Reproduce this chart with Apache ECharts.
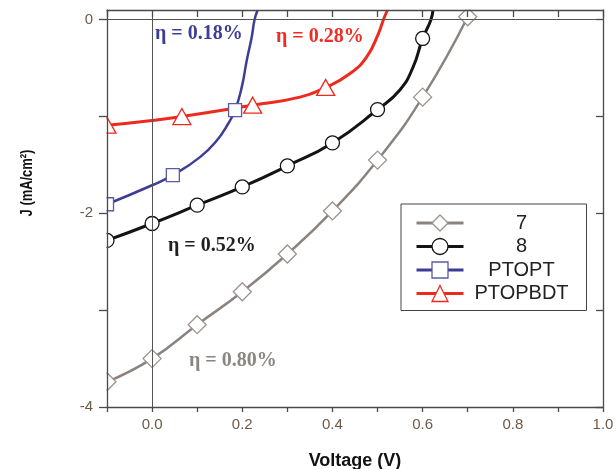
<!DOCTYPE html>
<html>
<head>
<meta charset="utf-8">
<script src="https://cdn.jsdelivr.net/npm/echarts@6/dist/echarts.min.js"></script>
<style>
  html, body { margin: 0; padding: 0; background: #fff; }
  #chart { width: 616px; height: 469px; }
</style>
</head>
<body>
<div id="chart"></div>
<script>
// J–V curves of the four devices (voltage in V, current density in mA/cm²).
// markN lists the indices of points drawn with a marker.
const volt7 = [-0.1, 0.0, 0.1, 0.2, 0.3, 0.4, 0.5, 0.6, 0.7];
const curr7 = [-3.74, -3.50, -3.15, -2.81, -2.42, -1.975, -1.45, -0.80, 0.03];
const mark7 = [0, 1, 2, 3, 4, 5, 6, 7, 8];

const volt8 = [-0.1, 0.0, 0.1, 0.2, 0.3, 0.4, 0.5, 0.549, 0.579, 0.6, 0.618, 0.623];
const curr8 = [-2.28, -2.105, -1.916, -1.727, -1.51, -1.273, -0.928, -0.728, -0.488, -0.194, -0.005, 0.1];
const mark8 = [0, 1, 2, 3, 4, 5, 6, 9];

const voltPT = [-0.1, 0.0, 0.046, 0.107, 0.144, 0.169, 0.184, 0.199, 0.210, 0.221, 0.227, 0.234];
const currPT = [-1.906, -1.71, -1.606, -1.417, -1.245, -1.072, -0.935, -0.694, -0.418, -0.178, -0.005, 0.098];
const markPT = [0, 2, 6];

const voltPB = [-0.1, 0.0, 0.066, 0.223, 0.328, 0.385, 0.439, 0.476, 0.502, 0.513, 0.522];
const currPB = [-1.09, -1.04, -1.0, -0.883, -0.80, -0.70, -0.556, -0.384, -0.143, 0.0, 0.1];
const markPB = [0, 2, 3, 5];

const seriesNames = ['7', '8', 'PTOPT', 'PTOPBDT'];
const efficiencies = ['η = 0.80%', 'η = 0.52%', 'η = 0.18%', 'η = 0.28%'];

// Axis ticks and labels
const xTicks = [-0.1, 0.0, 0.1, 0.2, 0.3, 0.4, 0.5, 0.6, 0.7, 0.8, 0.9, 1.0];
const xLabels = [0.0, 0.2, 0.4, 0.6, 0.8, 1.0];
const yTicks = [-4, -3, -2, -1, 0];
const yLabels = [-4, -2, 0];

const G = { left: 107, top: 10, width: 496, height: 397 };
const axisColor = '#4a4a4a';
const labelColor = '#6b5b4b';

const styles = {
  '7':       { line: '#8a837f', width: 2.5, symbol: 'diamond',  size: 18,       border: '#9a928e' },
  '8':       { line: '#141414', width: 3,   symbol: 'circle',   size: 14,       border: '#141414' },
  'PTOPT':   { line: '#3d3d96', width: 2.5, symbol: 'rect',     size: 13,       border: '#5a5aaa' },
  'PTOPBDT': { line: '#ee2a1e', width: 3,   symbol: 'triangle', size: [18, 16], border: '#ee2a1e' }
};

function points(v, j, marks) {
  return v.map((x, i) => marks.includes(i)
    ? { value: [x, j[i]] }
    : { value: [x, j[i]], symbol: 'none' });
}

function curve(name, v, j, marks) {
  const s = styles[name];
  return {
    name: name,
    type: 'line',
    data: points(v, j, marks),
    smooth: 0.5,
    symbol: s.symbol,
    symbolSize: s.size,
    showAllSymbol: true,
    clip: true,
    lineStyle: { color: s.line, width: s.width },
    itemStyle: { color: '#fff', borderColor: s.border, borderWidth: 1.3 },
    emphasis: { disabled: true },
    z: 3
  };
}

const chart = echarts.init(document.getElementById('chart'), null, { renderer: 'canvas' });

const option = {
  animation: false,
  backgroundColor: '#fff',
  grid: Object.assign({ outerBoundsMode: 'none', containLabel: false }, G),
  xAxis: [{
    type: 'value', position: 'bottom', min: -0.1, max: 1.0, z: 10,
    name: 'Voltage (V)', nameLocation: 'middle', nameGap: 45,
    nameTextStyle: { fontFamily: 'Liberation Sans', fontWeight: 'bold', fontSize: 18, color: '#111' },
    axisLine: { show: true, onZero: false, lineStyle: { color: axisColor, width: 1.3 } },
    axisTick: { show: true, inside: false, length: 5, customValues: xTicks, lineStyle: { color: axisColor, width: 1.3 } },
    axisLabel: { show: true, customValues: xLabels, margin: 10, color: labelColor, fontFamily: 'Liberation Sans', fontSize: 15,
      formatter: v => Number(v).toFixed(1) },
    splitLine: { show: false }
  }, {
    type: 'value', position: 'top', min: -0.1, max: 1.0, z: 10,
    axisLine: { show: true, onZero: false, lineStyle: { color: axisColor, width: 1.3 } },
    axisTick: { show: true, inside: true, length: 7, customValues: xTicks, lineStyle: { color: axisColor, width: 1.3 } },
    axisLabel: { show: false },
    splitLine: { show: false }
  }],
  yAxis: [{
    type: 'value', position: 'left', min: -4, max: 0.1, z: 10,
    axisLine: { show: true, onZero: false, lineStyle: { color: axisColor, width: 1.3 } },
    axisTick: { show: true, inside: false, length: 8, customValues: yTicks, lineStyle: { color: axisColor, width: 1.3 } },
    axisLabel: { show: true, customValues: yLabels, margin: 14, color: labelColor, fontFamily: 'Liberation Sans', fontSize: 15 },
    splitLine: { show: false }
  }, {
    type: 'value', position: 'right', min: -4, max: 0.1, z: 10,
    axisLine: { show: true, onZero: false, lineStyle: { color: axisColor, width: 1.3 } },
    axisTick: { show: true, inside: true, length: 7, customValues: yTicks, lineStyle: { color: axisColor, width: 1.3 } },
    axisLabel: { show: false },
    splitLine: { show: false }
  }],
  legend: {
    orient: 'vertical',
    left: 401, top: 204,
    padding: [9, 12, 7, 14],
    itemWidth: 47, itemHeight: 20, itemGap: 3.5,
    backgroundColor: '#fff',
    borderColor: '#444', borderWidth: 1, borderRadius: 0,
    data: seriesNames.map(n => ({
      name: n,
      itemStyle: { color: '#fff', borderColor: styles[n].border, borderWidth: 1.3 },
      lineStyle: { color: styles[n].line, width: 3 }
    })),
    formatter: '{t|{name}}',
    textStyle: {
      color: '#222', fontFamily: 'Liberation Sans', fontSize: 20, lineHeight: 20,
      rich: { t: { width: 106, align: 'center', fontSize: 20, lineHeight: 20, color: '#222', fontFamily: 'Liberation Sans' } }
    },
    selectedMode: false
  },
  series: [
    {
      // reference lines at V = 0 and J = 0
      type: 'line', data: [], z: 1, silent: true,
      markLine: {
        silent: true, symbol: 'none', animation: false,
        label: { show: false },
        lineStyle: { color: '#555', width: 1, type: 'solid' },
        data: [{ xAxis: 0 }, { yAxis: 0 }]
      }
    },
    curve(seriesNames[0], volt7, curr7, mark7),
    curve(seriesNames[1], volt8, curr8, mark8),
    curve(seriesNames[3], voltPB, currPB, markPB),
    curve(seriesNames[2], voltPT, currPT, markPT)
  ],
  graphic: [
    // white masks outside the plot frame so edge markers are cut at the frame
    { type: 'rect', z: 5, silent: true, shape: { x: 0, y: 0, width: G.left - 0.5, height: 469 }, style: { fill: '#fff' } },
    { type: 'rect', z: 5, silent: true, shape: { x: 0, y: 0, width: 616, height: G.top - 0.5 }, style: { fill: '#fff' } },
    // y axis title, condensed along its length
    { type: 'text', z: 11, silent: true, x: 27, y: 183, rotation: Math.PI / 2, scaleX: 0.76,
      style: { text: 'J (mA/cm²)', fill: '#111', font: 'bold 17px "Liberation Sans"', align: 'center', verticalAlign: 'middle' } },
    // efficiency annotations
    { type: 'text', z: 6, left: 189, top: 351, style: { text: efficiencies[0], fill: '#8c8682', font: 'bold 20px "Liberation Serif"' } },
    { type: 'text', z: 6, left: 168, top: 236, style: { text: efficiencies[1], fill: '#231f20', font: 'bold 20px "Liberation Serif"' } },
    { type: 'text', z: 6, left: 155, top: 24, style: { text: efficiencies[2], fill: '#3d3f94', font: 'bold 20px "Liberation Serif"' } },
    { type: 'text', z: 6, left: 276, top: 27, style: { text: efficiencies[3], fill: '#ee2d24', font: 'bold 20px "Liberation Serif"' } }
  ]
};

chart.setOption(option);
</script>
</body>
</html>
